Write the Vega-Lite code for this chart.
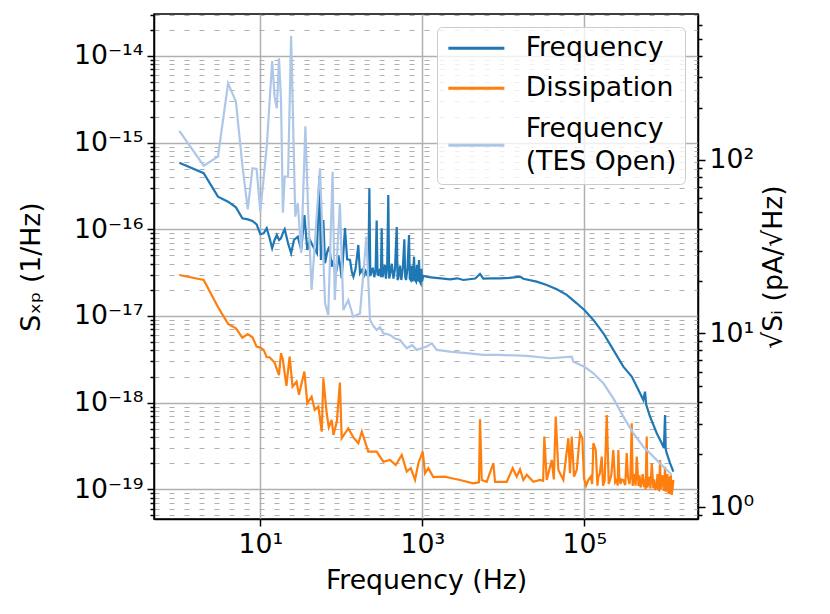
{
"$schema": "https://vega.github.io/schema/vega-lite/v6.json",
"width": 544, "height": 505,
"autosize": {"type": "none"},
"padding": {"left": 154, "top": 14, "right": 132, "bottom": 95},
"background": "white",
"config": {
  "font": "DejaVu Sans",
  "view": {"stroke": "black", "strokeWidth": 1.5},
  "axis": {"labelFont": "DejaVu Sans", "titleFont": "DejaVu Sans", "labelFontSize": 26.7, "titleFontSize": 26.7, "titleFontWeight": "normal", "labelColor": "black", "titleColor": "black", "domainColor": "black", "domainWidth": 1.5, "tickColor": "black", "tickWidth": 1.5, "labelOverlap": false, "labelFlush": false}
},
"datasets": {
"psd": [
{"s":"Frequency","f":1,"v":5.87e-16},{"s":"Frequency","f":2,"v":4.44e-16},{"s":"Frequency","f":3,"v":2.38e-16},{"s":"Frequency","f":4,"v":2.08e-16},{"s":"Frequency","f":5,"v":1.79e-16},{"s":"Frequency","f":6,"v":1.34e-16},{"s":"Frequency","f":7,"v":1.30e-16},{"s":"Frequency","f":8,"v":1.25e-16},{"s":"Frequency","f":9,"v":1.14e-16},{"s":"Frequency","f":10,"v":8.77e-17},{"s":"Frequency","f":11,"v":9.0e-17},{"s":"Frequency","f":12,"v":1.03e-16},{"s":"Frequency","f":13,"v":7.94e-17},{"s":"Frequency","f":14,"v":6.04e-17},{"s":"Frequency","f":15,"v":7.53e-17},{"s":"Frequency","f":16,"v":8.61e-17},{"s":"Frequency","f":17,"v":7.53e-17},{"s":"Frequency","f":18,"v":7.88e-17},{"s":"Frequency","f":19,"v":9.08e-17},{"s":"Frequency","f":20,"v":1.0e-16},{"s":"Frequency","f":22,"v":6.9e-17},{"s":"Frequency","f":24,"v":5.3e-17},{"s":"Frequency","f":26,"v":7.53e-17},{"s":"Frequency","f":29,"v":8.22e-17},{"s":"Frequency","f":32,"v":5.78e-17},{"s":"Frequency","f":35,"v":1.46e-16},{"s":"Frequency","f":38,"v":5.78e-17},{"s":"Frequency","f":41,"v":7.53e-17},{"s":"Frequency","f":45,"v":6.31e-17},{"s":"Frequency","f":50,"v":5.3e-17},{"s":"Frequency","f":53.5,"v":4.12e-16},{"s":"Frequency","f":56,"v":4.43e-17},{"s":"Frequency","f":60,"v":1.28e-16},{"s":"Frequency","f":63,"v":4.06e-17},{"s":"Frequency","f":67,"v":5.5e-17},{"s":"Frequency","f":71,"v":6.31e-17},{"s":"Frequency","f":76,"v":3.71e-17},{"s":"Frequency","f":80,"v":4.43e-17},{"s":"Frequency","f":84,"v":3.1e-17},{"s":"Frequency","f":88,"v":3.4e-17},{"s":"Frequency","f":92,"v":5.0e-17},{"s":"Frequency","f":96,"v":4.06e-17},{"s":"Frequency","f":101,"v":2.72e-17},{"s":"Frequency","f":111,"v":1.03e-16},{"s":"Frequency","f":118,"v":4.5e-17},{"s":"Frequency","f":128,"v":4.43e-17},{"s":"Frequency","f":135,"v":3.2e-17},{"s":"Frequency","f":141,"v":2.84e-17},{"s":"Frequency","f":150,"v":3.5e-17},{"s":"Frequency","f":162,"v":6.59e-17},{"s":"Frequency","f":170,"v":3.11e-17},{"s":"Frequency","f":180,"v":3.4e-17},{"s":"Frequency","f":190,"v":2.9e-17},{"s":"Frequency","f":200,"v":3.3e-17},{"s":"Frequency","f":206,"v":3.11e-17},{"s":"Frequency","f":215,"v":2.8e-17},{"s":"Frequency","f":222,"v":2.97e-16},{"s":"Frequency","f":228,"v":2.9e-17},{"s":"Frequency","f":233,"v":3.11e-17},{"s":"Frequency","f":245,"v":3.6e-17},{"s":"Frequency","f":255,"v":2.8e-17},{"s":"Frequency","f":265,"v":3.4e-17},{"s":"Frequency","f":273,"v":1.26e-16},{"s":"Frequency","f":280,"v":3.0e-17},{"s":"Frequency","f":286,"v":2.97e-17},{"s":"Frequency","f":300,"v":3.5e-17},{"s":"Frequency","f":308,"v":2.8e-17},{"s":"Frequency","f":315,"v":1.03e-16},{"s":"Frequency","f":322,"v":2.8e-17},{"s":"Frequency","f":330,"v":3.11e-17},{"s":"Frequency","f":345,"v":3.9e-17},{"s":"Frequency","f":355,"v":2.7e-17},{"s":"Frequency","f":368,"v":3.6e-17},{"s":"Frequency","f":380,"v":2.49e-16},{"s":"Frequency","f":390,"v":2.7e-17},{"s":"Frequency","f":399,"v":2.97e-17},{"s":"Frequency","f":420,"v":4.0e-17},{"s":"Frequency","f":440,"v":2.7e-17},{"s":"Frequency","f":460,"v":3.5e-17},{"s":"Frequency","f":483,"v":1.06e-16},{"s":"Frequency","f":495,"v":2.6e-17},{"s":"Frequency","f":505,"v":2.72e-17},{"s":"Frequency","f":530,"v":3.8e-17},{"s":"Frequency","f":550,"v":2.6e-17},{"s":"Frequency","f":575,"v":3.6e-17},{"s":"Frequency","f":600,"v":7.67e-17},{"s":"Frequency","f":615,"v":2.8e-17},{"s":"Frequency","f":629,"v":2.6e-17},{"s":"Frequency","f":655,"v":3.5e-17},{"s":"Frequency","f":685,"v":8.61e-17},{"s":"Frequency","f":700,"v":2.7e-17},{"s":"Frequency","f":719,"v":2.6e-17},{"s":"Frequency","f":740,"v":3.8e-17},{"s":"Frequency","f":760,"v":2.5e-17},{"s":"Frequency","f":790,"v":4.83e-17},{"s":"Frequency","f":810,"v":2.6e-17},{"s":"Frequency","f":836,"v":2.49e-17},{"s":"Frequency","f":860,"v":3.9e-17},{"s":"Frequency","f":880,"v":2.5e-17},{"s":"Frequency","f":910,"v":4.43e-17},{"s":"Frequency","f":930,"v":2.5e-17},{"s":"Frequency","f":955,"v":2.38e-17},{"s":"Frequency","f":975,"v":3.5e-17},{"s":"Frequency","f":990,"v":2.5e-17},{"s":"Frequency","f":1028,"v":2.9e-17},{"s":"Frequency","f":1200,"v":2.8e-17},{"s":"Frequency","f":1367,"v":2.77e-17},{"s":"Frequency","f":1700,"v":2.72e-17},{"s":"Frequency","f":2198,"v":2.65e-17},{"s":"Frequency","f":2700,"v":2.72e-17},{"s":"Frequency","f":3206,"v":2.6e-17},{"s":"Frequency","f":4500,"v":2.7e-17},{"s":"Frequency","f":5152,"v":3.05e-17},{"s":"Frequency","f":5664,"v":2.69e-17},{"s":"Frequency","f":7000,"v":2.72e-17},{"s":"Frequency","f":9106,"v":2.72e-17},{"s":"Frequency","f":12000,"v":2.75e-17},{"s":"Frequency","f":16070,"v":2.84e-17},{"s":"Frequency","f":17660,"v":2.69e-17},{"s":"Frequency","f":25820,"v":2.49e-17},{"s":"Frequency","f":34350,"v":2.28e-17},{"s":"Frequency","f":45630,"v":2.03e-17},{"s":"Frequency","f":60670,"v":1.75e-17},{"s":"Frequency","f":80540,"v":1.4e-17},{"s":"Frequency","f":100000,"v":1.17e-17},{"s":"Frequency","f":129200,"v":9.0e-18},{"s":"Frequency","f":171800,"v":6.31e-18},{"s":"Frequency","f":228000,"v":4.06e-18},{"s":"Frequency","f":302900,"v":2.6e-18},{"s":"Frequency","f":384600,"v":2.0e-18},{"s":"Frequency","f":443600,"v":1.53e-18},{"s":"Frequency","f":534600,"v":1.07e-18},{"s":"Frequency","f":561000,"v":1.34e-18},{"s":"Frequency","f":580000,"v":9.5e-19},{"s":"Frequency","f":647100,"v":6.89e-19},{"s":"Frequency","f":783300,"v":4.44e-19},{"s":"Frequency","f":903600,"v":3.4e-19},{"s":"Frequency","f":960000,"v":3.0e-19},{"s":"Frequency","f":991000,"v":7.21e-19},{"s":"Frequency","f":1010000,"v":2.9e-19},{"s":"Frequency","f":1040000,"v":2.61e-19},{"s":"Frequency","f":1143000,"v":2.0e-19},{"s":"Frequency","f":1256000,"v":1.6e-19},
{"s":"Dissipation","f":1,"v":2.97e-17},{"s":"Dissipation","f":2,"v":2.6e-17},{"s":"Dissipation","f":3,"v":1.27e-17},{"s":"Dissipation","f":4,"v":8.09e-18},{"s":"Dissipation","f":5,"v":7.21e-18},{"s":"Dissipation","f":6,"v":5.62e-18},{"s":"Dissipation","f":7,"v":6.19e-18},{"s":"Dissipation","f":8,"v":5.68e-18},{"s":"Dissipation","f":9,"v":4.43e-18},{"s":"Dissipation","f":10,"v":4.31e-18},{"s":"Dissipation","f":11,"v":4.06e-18},{"s":"Dissipation","f":12,"v":3.34e-18},{"s":"Dissipation","f":13,"v":3.34e-18},{"s":"Dissipation","f":14,"v":3.1e-18},{"s":"Dissipation","f":15,"v":2.9e-18},{"s":"Dissipation","f":17,"v":2.08e-18},{"s":"Dissipation","f":18,"v":3.72e-18},{"s":"Dissipation","f":19,"v":3.1e-18},{"s":"Dissipation","f":21,"v":1.56e-18},{"s":"Dissipation","f":23,"v":3.4e-18},{"s":"Dissipation","f":25,"v":1.53e-18},{"s":"Dissipation","f":28,"v":1.75e-18},{"s":"Dissipation","f":30,"v":1.23e-18},{"s":"Dissipation","f":35,"v":2.28e-18},{"s":"Dissipation","f":38,"v":9.84e-19},{"s":"Dissipation","f":43,"v":1.17e-18},{"s":"Dissipation","f":47,"v":8.24e-19},{"s":"Dissipation","f":52,"v":9.0e-19},{"s":"Dissipation","f":57.3,"v":4.62e-19},{"s":"Dissipation","f":60,"v":1.91e-18},{"s":"Dissipation","f":66,"v":7.54e-19},{"s":"Dissipation","f":70,"v":5.2e-19},{"s":"Dissipation","f":76,"v":6.31e-19},{"s":"Dissipation","f":80,"v":4.24e-19},{"s":"Dissipation","f":88,"v":6.04e-19},{"s":"Dissipation","f":96,"v":1.7e-18},{"s":"Dissipation","f":101,"v":3.88e-19},{"s":"Dissipation","f":122,"v":5.06e-19},{"s":"Dissipation","f":140,"v":4.0e-19},{"s":"Dissipation","f":162,"v":3.4e-19},{"s":"Dissipation","f":179,"v":4.62e-19},{"s":"Dissipation","f":215,"v":2.72e-19},{"s":"Dissipation","f":273,"v":2.72e-19},{"s":"Dissipation","f":330,"v":2.08e-19},{"s":"Dissipation","f":399,"v":2.18e-19},{"s":"Dissipation","f":470,"v":1.9e-19},{"s":"Dissipation","f":557,"v":2.49e-19},{"s":"Dissipation","f":642,"v":1.6e-19},{"s":"Dissipation","f":720,"v":1.75e-19},{"s":"Dissipation","f":812,"v":1.28e-19},{"s":"Dissipation","f":893,"v":2.0e-19},{"s":"Dissipation","f":1012,"v":2.72e-19},{"s":"Dissipation","f":1080,"v":1.53e-19},{"s":"Dissipation","f":1186,"v":1.75e-19},{"s":"Dissipation","f":1367,"v":1.38e-19},{"s":"Dissipation","f":1906,"v":1.4e-19},{"s":"Dissipation","f":2307,"v":1.34e-19},{"s":"Dissipation","f":2918,"v":1.28e-19},{"s":"Dissipation","f":4262,"v":1.17e-19},{"s":"Dissipation","f":5000,"v":1.2e-19},{"s":"Dissipation","f":5152,"v":6.43e-19},{"s":"Dissipation","f":5410,"v":1.28e-19},{"s":"Dissipation","f":6237,"v":1.22e-19},{"s":"Dissipation","f":7530,"v":2.0e-19},{"s":"Dissipation","f":7900,"v":1.22e-19},{"s":"Dissipation","f":11020,"v":1.22e-19},{"s":"Dissipation","f":13060,"v":1.75e-19},{"s":"Dissipation","f":14630,"v":1.4e-19},{"s":"Dissipation","f":16070,"v":1.7e-19},{"s":"Dissipation","f":17660,"v":1.28e-19},{"s":"Dissipation","f":19450,"v":1.47e-19},{"s":"Dissipation","f":23460,"v":1.22e-19},{"s":"Dissipation","f":28380,"v":1.28e-19},{"s":"Dissipation","f":31000,"v":1.25e-19},{"s":"Dissipation","f":32070,"v":4.05e-19},{"s":"Dissipation","f":34350,"v":1.28e-19},{"s":"Dissipation","f":39620,"v":2.18e-19},{"s":"Dissipation","f":42000,"v":1.3e-19},{"s":"Dissipation","f":44360,"v":6.89e-19},{"s":"Dissipation","f":47790,"v":1.67e-19},{"s":"Dissipation","f":55080,"v":1.28e-19},{"s":"Dissipation","f":63420,"v":3.88e-19},{"s":"Dissipation","f":66520,"v":1.53e-19},{"s":"Dissipation","f":69830,"v":4.05e-19},{"s":"Dissipation","f":74640,"v":1.4e-19},{"s":"Dissipation","f":80540,"v":1.67e-19},{"s":"Dissipation","f":88500,"v":4.44e-19},{"s":"Dissipation","f":94450,"v":3.88e-19},{"s":"Dissipation","f":99100,"v":1.34e-19},{"s":"Dissipation","f":105000,"v":1.1e-19},{"s":"Dissipation","f":111900,"v":1.28e-19},{"s":"Dissipation","f":120000,"v":1.4e-19},{"s":"Dissipation","f":125000,"v":1.15e-19},{"s":"Dissipation","f":129200,"v":3.4e-19},{"s":"Dissipation","f":138300,"v":2.84e-19},{"s":"Dissipation","f":145000,"v":1.1e-19},{"s":"Dissipation","f":148900,"v":1.4e-19},{"s":"Dissipation","f":155000,"v":1.5e-19},{"s":"Dissipation","f":164000,"v":2.38e-19},{"s":"Dissipation","f":170000,"v":1.1e-19},{"s":"Dissipation","f":178000,"v":1.25e-19},{"s":"Dissipation","f":189200,"v":7.21e-19},{"s":"Dissipation","f":200000,"v":1.15e-19},{"s":"Dissipation","f":207600,"v":1.28e-19},{"s":"Dissipation","f":215000,"v":1.45e-19},{"s":"Dissipation","f":228000,"v":2.84e-19},{"s":"Dissipation","f":240000,"v":1.2e-19},{"s":"Dissipation","f":251200,"v":1.28e-19},{"s":"Dissipation","f":258000,"v":1.1e-19},{"s":"Dissipation","f":263000,"v":2.84e-19},{"s":"Dissipation","f":270000,"v":1.4e-19},{"s":"Dissipation","f":280000,"v":1.15e-19},{"s":"Dissipation","f":290000,"v":1.3e-19},{"s":"Dissipation","f":302900,"v":1.28e-19},{"s":"Dissipation","f":320000,"v":1.12e-19},{"s":"Dissipation","f":333400,"v":2.61e-19},{"s":"Dissipation","f":345000,"v":1.4e-19},{"s":"Dissipation","f":360000,"v":1.15e-19},{"s":"Dissipation","f":370000,"v":1.35e-19},{"s":"Dissipation","f":384600,"v":5.78e-19},{"s":"Dissipation","f":395000,"v":1.1e-19},{"s":"Dissipation","f":402700,"v":1.22e-19},{"s":"Dissipation","f":420000,"v":1.5e-19},{"s":"Dissipation","f":430000,"v":1.1e-19},{"s":"Dissipation","f":443600,"v":2.38e-19},{"s":"Dissipation","f":466700,"v":1.09e-19},{"s":"Dissipation","f":480000,"v":1.45e-19},{"s":"Dissipation","f":495000,"v":1.05e-19},{"s":"Dissipation","f":511600,"v":1.22e-19},{"s":"Dissipation","f":525000,"v":1.5e-19},{"s":"Dissipation","f":546000,"v":1.06e-19},{"s":"Dissipation","f":560000,"v":1.3e-19},{"s":"Dissipation","f":570000,"v":1.0e-19},{"s":"Dissipation","f":589000,"v":4.05e-19},{"s":"Dissipation","f":600000,"v":1.05e-19},{"s":"Dissipation","f":616600,"v":1.17e-19},{"s":"Dissipation","f":640000,"v":1.4e-19},{"s":"Dissipation","f":655000,"v":1.02e-19},{"s":"Dissipation","f":679200,"v":2.0e-19},{"s":"Dissipation","f":695000,"v":1.45e-19},{"s":"Dissipation","f":711000,"v":1.03e-19},{"s":"Dissipation","f":730000,"v":1.3e-19},{"s":"Dissipation","f":750000,"v":9.8e-20},{"s":"Dissipation","f":783300,"v":1.12e-19},{"s":"Dissipation","f":800000,"v":1.5e-19},{"s":"Dissipation","f":815000,"v":1.0e-19},{"s":"Dissipation","f":836000,"v":9.8e-20},{"s":"Dissipation","f":861000,"v":2.18e-19},{"s":"Dissipation","f":875000,"v":1.0e-19},{"s":"Dissipation","f":903600,"v":1.35e-19},{"s":"Dissipation","f":925000,"v":1.45e-19},{"s":"Dissipation","f":944000,"v":1.07e-19},{"s":"Dissipation","f":965000,"v":9.6e-20},{"s":"Dissipation","f":991000,"v":1.82e-19},{"s":"Dissipation","f":1015000,"v":9.4e-20},{"s":"Dissipation","f":1040000,"v":1.35e-19},{"s":"Dissipation","f":1060000,"v":1.5e-19},{"s":"Dissipation","f":1089000,"v":9.0e-20},{"s":"Dissipation","f":1110000,"v":1.4e-19},{"s":"Dissipation","f":1125000,"v":8.8e-20},{"s":"Dissipation","f":1143000,"v":1.22e-19},{"s":"Dissipation","f":1170000,"v":1.45e-19},{"s":"Dissipation","f":1199000,"v":8.6e-20},{"s":"Dissipation","f":1225000,"v":1.0e-19},{"s":"Dissipation","f":1256000,"v":1.28e-19},
{"s":"Frequency (TES Open)","f":1,"v":1.37e-15},{"s":"Frequency (TES Open)","f":2,"v":5.42e-16},{"s":"Frequency (TES Open)","f":3,"v":6.89e-16},{"s":"Frequency (TES Open)","f":4,"v":4.84e-15},{"s":"Frequency (TES Open)","f":5,"v":2.97e-15},{"s":"Frequency (TES Open)","f":6,"v":5.52e-16},{"s":"Frequency (TES Open)","f":7,"v":1.7e-16},{"s":"Frequency (TES Open)","f":8,"v":5.06e-16},{"s":"Frequency (TES Open)","f":9,"v":4.97e-16},{"s":"Frequency (TES Open)","f":10,"v":1.6e-16},{"s":"Frequency (TES Open)","f":12,"v":8.98e-16},{"s":"Frequency (TES Open)","f":14,"v":8.75e-15},{"s":"Frequency (TES Open)","f":15,"v":3.39e-15},{"s":"Frequency (TES Open)","f":16,"v":2.49e-15},{"s":"Frequency (TES Open)","f":17,"v":9.4e-15},{"s":"Frequency (TES Open)","f":18,"v":3.1e-15},{"s":"Frequency (TES Open)","f":19,"v":1.55e-16},{"s":"Frequency (TES Open)","f":20,"v":4.05e-16},{"s":"Frequency (TES Open)","f":22,"v":4.05e-16},{"s":"Frequency (TES Open)","f":24,"v":1.7e-14},{"s":"Frequency (TES Open)","f":27,"v":1.4e-16},{"s":"Frequency (TES Open)","f":29,"v":2.01e-16},{"s":"Frequency (TES Open)","f":32,"v":5.33e-17},{"s":"Frequency (TES Open)","f":36,"v":1.54e-15},{"s":"Frequency (TES Open)","f":39,"v":1.55e-16},{"s":"Frequency (TES Open)","f":43,"v":2.0e-17},{"s":"Frequency (TES Open)","f":54.5,"v":5.06e-16},{"s":"Frequency (TES Open)","f":63,"v":1.4e-17},{"s":"Frequency (TES Open)","f":69,"v":1.03e-17},{"s":"Frequency (TES Open)","f":78,"v":4.62e-16},{"s":"Frequency (TES Open)","f":83,"v":1.53e-17},{"s":"Frequency (TES Open)","f":96,"v":2.0e-16},{"s":"Frequency (TES Open)","f":106,"v":1.17e-17},{"s":"Frequency (TES Open)","f":122,"v":1.53e-17},{"s":"Frequency (TES Open)","f":140,"v":9.8e-18},{"s":"Frequency (TES Open)","f":170,"v":1.07e-17},{"s":"Frequency (TES Open)","f":204,"v":8.22e-17},{"s":"Frequency (TES Open)","f":226,"v":9.0e-18},{"s":"Frequency (TES Open)","f":250,"v":7.6e-18},{"s":"Frequency (TES Open)","f":273,"v":6.9e-18},{"s":"Frequency (TES Open)","f":300,"v":7.4e-18},{"s":"Frequency (TES Open)","f":330,"v":6.31e-18},{"s":"Frequency (TES Open)","f":399,"v":6.04e-18},{"s":"Frequency (TES Open)","f":460,"v":5.5e-18},{"s":"Frequency (TES Open)","f":530,"v":5.28e-18},{"s":"Frequency (TES Open)","f":642,"v":4.24e-18},{"s":"Frequency (TES Open)","f":750,"v":4.6e-18},{"s":"Frequency (TES Open)","f":853,"v":4.06e-18},{"s":"Frequency (TES Open)","f":1133,"v":4.43e-18},{"s":"Frequency (TES Open)","f":1306,"v":4.84e-18},{"s":"Frequency (TES Open)","f":1506,"v":4.06e-18},{"s":"Frequency (TES Open)","f":2198,"v":3.87e-18},{"s":"Frequency (TES Open)","f":3532,"v":3.72e-18},{"s":"Frequency (TES Open)","f":5664,"v":3.55e-18},{"s":"Frequency (TES Open)","f":9106,"v":3.55e-18},{"s":"Frequency (TES Open)","f":19450,"v":3.46e-18},{"s":"Frequency (TES Open)","f":37740,"v":3.25e-18},{"s":"Frequency (TES Open)","f":69830,"v":3.4e-18},{"s":"Frequency (TES Open)","f":73120,"v":2.97e-18},{"s":"Frequency (TES Open)","f":100000,"v":2.6e-18},{"s":"Frequency (TES Open)","f":129200,"v":2.18e-18},{"s":"Frequency (TES Open)","f":171800,"v":1.67e-18},{"s":"Frequency (TES Open)","f":228000,"v":1.12e-18},{"s":"Frequency (TES Open)","f":302900,"v":6.89e-19},{"s":"Frequency (TES Open)","f":402700,"v":4.44e-19},{"s":"Frequency (TES Open)","f":534600,"v":3.1e-19},{"s":"Frequency (TES Open)","f":711000,"v":2.38e-19},{"s":"Frequency (TES Open)","f":944000,"v":1.82e-19},{"s":"Frequency (TES Open)","f":1199000,"v":1.47e-19}
],
"rax": [{"r": 1}, {"r": 100}]
},
"layer": [
  {
    "data": {"name": "psd"},
    "encoding": {
      "x": {"field": "f", "type": "quantitative",
        "scale": {"type": "log", "domain": [0.487, 2530000], "nice": false},
        "axis": {"title": "Frequency (Hz)", "values": [10, 1000, 100000],
          "labelExpr": "datum.value == 10 ? '10¹' : datum.value == 1000 ? '10³' : '10⁵'",
          "tickSize": 7, "labelPadding": 5, "titlePadding": 10,
          "gridColor": "#b0b0b0", "gridWidth": 1.5}},
      "y": {"field": "v", "type": "quantitative",
        "scale": {"type": "log", "domain": [4.54e-20, 3.05e-14], "nice": false},
        "axis": {"orient": "left", "title": "Sₓₚ (1/Hz)",
          "values": [5e-20,6e-20,7e-20,8e-20,9e-20,1e-19,2e-19,3e-19,4e-19,5e-19,6e-19,7e-19,8e-19,9e-19,1e-18,2e-18,3e-18,4e-18,5e-18,6e-18,7e-18,8e-18,9e-18,1e-17,2e-17,3e-17,4e-17,5e-17,6e-17,7e-17,8e-17,9e-17,1e-16,2e-16,3e-16,4e-16,5e-16,6e-16,7e-16,8e-16,9e-16,1e-15,2e-15,3e-15,4e-15,5e-15,6e-15,7e-15,8e-15,9e-15,1e-14,2e-14,3e-14],
          "labelExpr": "datum.value == 1e-14 ? '10⁻¹⁴' : datum.value == 1e-15 ? '10⁻¹⁵' : datum.value == 1e-16 ? '10⁻¹⁶' : datum.value == 1e-17 ? '10⁻¹⁷' : datum.value == 1e-18 ? '10⁻¹⁸' : datum.value == 1e-19 ? '10⁻¹⁹' : ''",
          "tickSize": {"condition": {"test": "indexof([1e-19,1e-18,1e-17,1e-16,1e-15,1e-14], datum.value) >= 0", "value": 7}, "value": 4},
          "gridDash": {"condition": {"test": "indexof([1e-19,1e-18,1e-17,1e-16,1e-15,1e-14], datum.value) >= 0", "value": []}, "value": [5, 10]},
          "gridWidth": {"condition": {"test": "indexof([1e-19,1e-18,1e-17,1e-16,1e-15,1e-14], datum.value) >= 0", "value": 1.5}, "value": 1.2},
          "gridColor": "#b0b0b0", "labelPadding": 4, "titlePadding": 28}},
      "color": {"field": "s", "type": "nominal",
        "scale": {"domain": ["Frequency", "Dissipation", "Frequency (TES Open)"], "range": ["#1f77b4", "#ff7f0e", "#aec7e8"]},
        "legend": {"title": null, "orient": "top-right", "offset": 13, "symbolType": "M-1,0H4.6", "symbolSize": 400, "symbolStrokeWidth": 3,
          "labelFont": "DejaVu Sans", "labelFontSize": 26.7, "labelColor": "black", "labelOffset": 54, "labelLimit": 400,
          "padding": 8, "rowPadding": 12, "strokeColor": "#cccccc", "fillColor": "rgba(255,255,255,0.8)", "cornerRadius": 5,
          "labelExpr": "datum.label == 'Frequency (TES Open)' ? ['Frequency', '(TES Open)'] : datum.label",
          "encode": {"labels": {"update": {"lineHeight": {"value": 33}, "dy": {"signal": "datum.label == 'Frequency (TES Open)' ? -16.5 : 0"}}}}}}
    },
    "layer": [
      {"transform": [{"filter": "datum.s == 'Frequency'"}], "mark": {"type": "line", "strokeWidth": 2.2}},
      {"transform": [{"filter": "datum.s == 'Dissipation'"}], "mark": {"type": "line", "strokeWidth": 2.2}},
      {"transform": [{"filter": "datum.s == 'Frequency (TES Open)'"}], "mark": {"type": "line", "strokeWidth": 2.2}}
    ]
  },
  {
    "data": {"name": "rax"},
    "mark": {"type": "point", "opacity": 0},
    "encoding": {
      "y": {"field": "r", "type": "quantitative",
        "scale": {"type": "log", "domain": [0.849, 695], "nice": false},
        "axis": {"orient": "right", "grid": false, "title": "√Sᵢ (pA/√Hz)", "titleAngle": 270, "titleBaseline": "top",
          "values": [0.9,1,2,3,4,5,6,7,8,9,10,20,30,40,50,60,70,80,90,100,200,300,400,500,600],
          "labelExpr": "datum.value == 1 ? '10⁰' : datum.value == 10 ? '10¹' : datum.value == 100 ? '10²' : ''",
          "tickSize": {"condition": {"test": "indexof([1,10,100], datum.value) >= 0", "value": 7}, "value": 4},
          "labelPadding": 4, "titlePadding": 7}}
    }
  }
],
"resolve": {"scale": {"y": "independent"}, "axis": {"y": "independent"}}
}
